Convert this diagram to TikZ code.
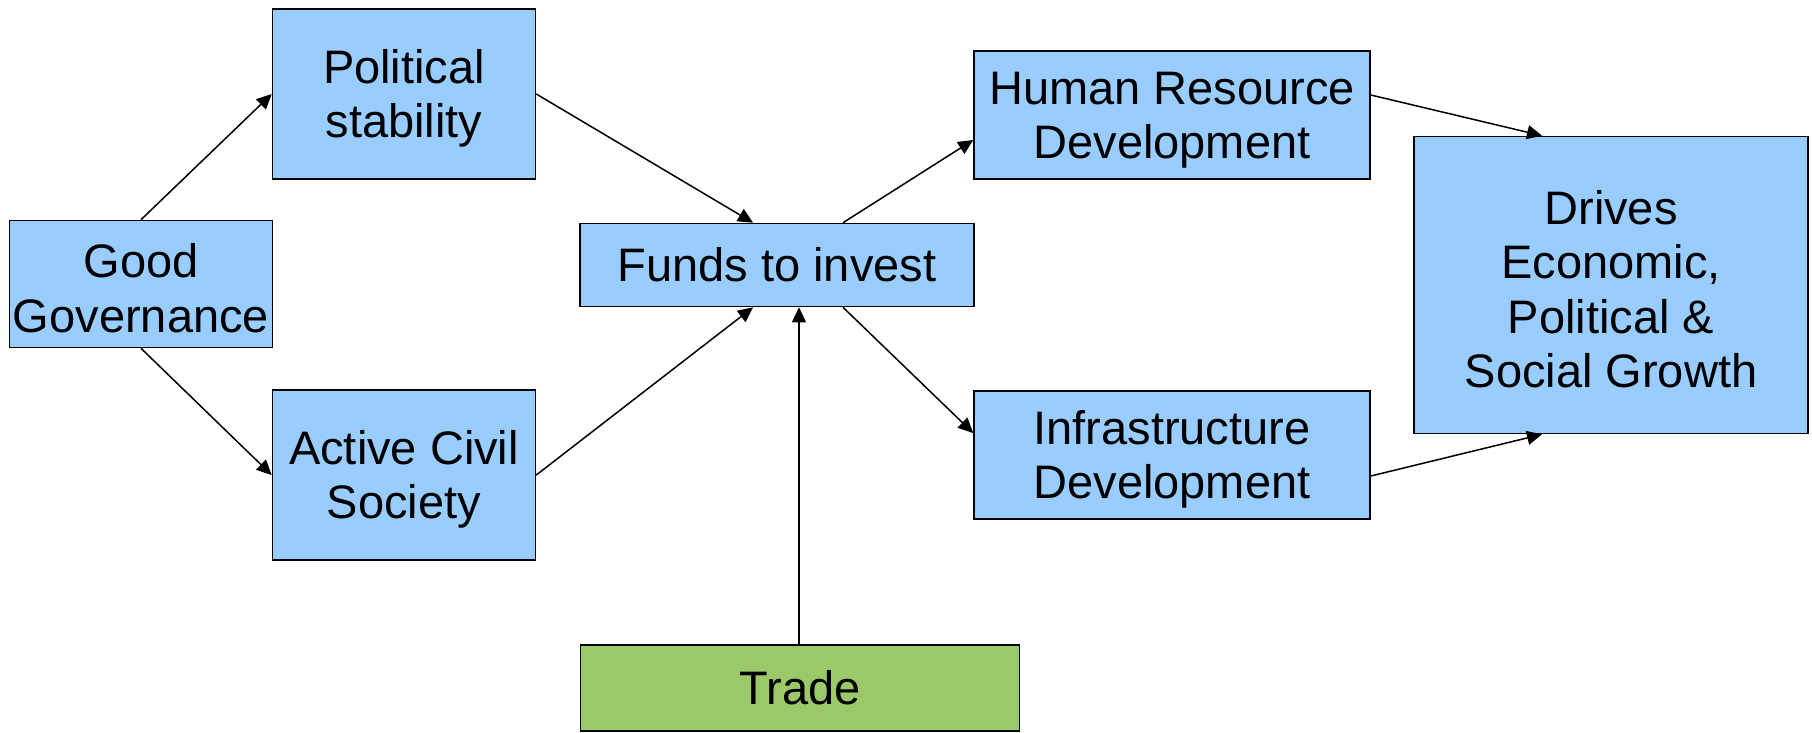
\documentclass[tikz,border=0pt]{standalone}
\usepackage{fontspec}
\setmainfont{Liberation Sans}
\usetikzlibrary{arrows.meta}
\definecolor{boxblue}{RGB}{153,204,255}
\definecolor{boxgreen}{RGB}{155,200,105}
\newcommand{\topstrut}{\rule{0pt}{42.5pt}}
\tikzset{
  factor/.style={draw, line width=1.6pt, fill=boxblue, inner sep=0pt, align=center,
    font=\fontsize{47}{54.5}\selectfont},
  link/.style={line width=1.5pt, -{Triangle[length=15pt,width=14pt]}}
}
\begin{document}
\begin{tikzpicture}[x=1pt,y=-1pt]
\useasboundingbox (0,0) rectangle (1812,732);
\node (gov) [factor, minimum width=263pt, minimum height=127pt] at (141,284) {\topstrut Good\\Governance};
\node (pol) [factor, minimum width=263pt, minimum height=170pt] at (404,94) {\topstrut Political\\stability};
\node (civil) [factor, minimum width=263pt, minimum height=170pt] at (404,475) {\topstrut Active Civil\\Society};
\node (funds) [factor, minimum width=394pt, minimum height=83pt] at (777,265) {Funds to invest};
\node (trade) [factor, fill=boxgreen, minimum width=439pt, minimum height=86pt] at (800,688) {Trade};
\node (hrd) [factor, minimum width=396pt, minimum height=128pt] at (1172,115) {\topstrut Human Resource\\Development};
\node (infra) [factor, minimum width=396pt, minimum height=128pt] at (1172,455) {\topstrut Infrastructure\\Development};
\node (growth) [factor, minimum width=394pt, minimum height=297pt] at (1611,285) {\topstrut Drives\\Economic,\\Political \&\\Social Growth};

\draw [link] (gov.north) -- (pol.west);
\draw [link] (gov.south) -- (civil.west);
\draw [link] (pol.east) -- ([xshift=-24pt]funds.north);
\draw [link] (civil.east) -- ([xshift=-24pt]funds.south);
\draw [link] ([xshift=-1pt]trade.north) -- ([xshift=-1pt]trade.north |- funds.south);
\draw [link] ([xshift=66pt]funds.north) -- ([yshift=-25pt]hrd.west);
\draw [link] ([xshift=66pt]funds.south) -- ([yshift=22pt]infra.west);
\draw [link] ([yshift=20pt]hrd.east) -- ([xshift=-69pt]growth.north);
\draw [link] ([yshift=-21pt]infra.east) -- ([xshift=-69pt]growth.south);
\end{tikzpicture}
\end{document}
